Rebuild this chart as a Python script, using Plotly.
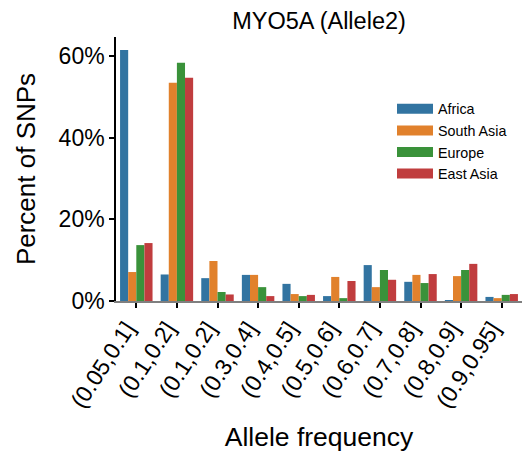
import plotly.graph_objects as go

categories = ["(0.05,0.1]", "(0.1,0.2]", "(0.1,0.2]", "(0.3,0.4]", "(0.4,0.5]",
              "(0.5,0.6]", "(0.6,0.7]", "(0.7,0.8]", "(0.8,0.9]", "(0.9,0.95]"]
africa = [61.5, 6.5, 5.6, 6.4, 4.2, 1.2, 8.8, 4.7, 0.2, 1.0]
south_asia = [7.1, 53.5, 9.8, 6.4, 1.7, 5.9, 3.4, 6.4, 6.1, 0.7]
europe = [13.7, 58.4, 2.2, 3.4, 1.2, 0.7, 7.6, 4.4, 7.6, 1.5]
east_asia = [14.2, 54.7, 1.6, 1.2, 1.5, 4.9, 5.2, 6.6, 9.1, 1.7]
series_names = ["Africa", "South Asia", "Europe", "East Asia"]
y_ticks = [0, 20, 40, 60]
y_tick_labels = ["0%", "20%", "40%", "60%"]

colors = ["#3274a1", "#e1812c", "#3a923a", "#c03d3e"]
FONT = "Liberation Sans, Arial, Helvetica, sans-serif"

xpos = list(range(len(categories)))
fig = go.Figure()
for name, vals, c in zip(series_names, [africa, south_asia, europe, east_asia], colors):
    fig.add_trace(go.Bar(x=xpos, y=vals, name=name, marker=dict(color=c, line=dict(width=0)),
                         showlegend=False))
for name, c in zip(series_names, colors):
    fig.add_trace(go.Scatter(x=[None], y=[None], mode="lines", name=name,
                             line=dict(color=c, width=10), showlegend=True))

fig.update_layout(
    template="none",
    width=523, height=455,
    margin=dict(l=116, r=1, t=37, b=154, autoexpand=False),
    plot_bgcolor="white", paper_bgcolor="white",
    barmode="group", bargap=0.2, bargroupgap=0,
    font=dict(family=FONT, color="black"),
    title=dict(text="MYO5A (Allele2)", x=0.5, xanchor="center", xref="paper",
               y=1 - 21/455, yanchor="middle", yref="container",
               font=dict(size=23.5, family=FONT, color="black")),
    legend=dict(x=(398-116-6)/406, y=1 - (93-37)/264, xanchor="left", yanchor="top",
                bgcolor="rgba(0,0,0,0)", font=dict(size=14.3, family=FONT),
                tracegroupgap=0, itemwidth=36),
)
fig.update_xaxes(
    automargin=False,
    range=[-0.5, 9.5], tickmode="array", tickvals=xpos, ticktext=categories,
    tickangle=-57, tickfont=dict(size=23, family=FONT), ticklabelshift=-10,
    ticklabelstandoff=-2,
    showline=True, linecolor="#7f7f7f", linewidth=2,
    ticks="outside", ticklen=5, tickcolor="black", tickwidth=1.5,
    showgrid=False, zeroline=False,
    title=dict(text="Allele frequency", font=dict(size=26.5, family=FONT), standoff=16),
)
fig.update_yaxes(
    automargin=False,
    range=[0, 64.7], tickmode="array", tickvals=y_ticks, ticktext=y_tick_labels,
    tickfont=dict(size=23, family=FONT),
    showline=True, linecolor="black", linewidth=1.5,
    ticks="outside", ticklen=5, tickcolor="black", tickwidth=1.5,
    showgrid=False, zeroline=False,
    title=dict(text="Percent of SNPs", font=dict(size=26, family=FONT), standoff=16),
)
fig.write_html("out.html", config={"displayModeBar": False},
               post_script="document.body.style.margin='0px';")
